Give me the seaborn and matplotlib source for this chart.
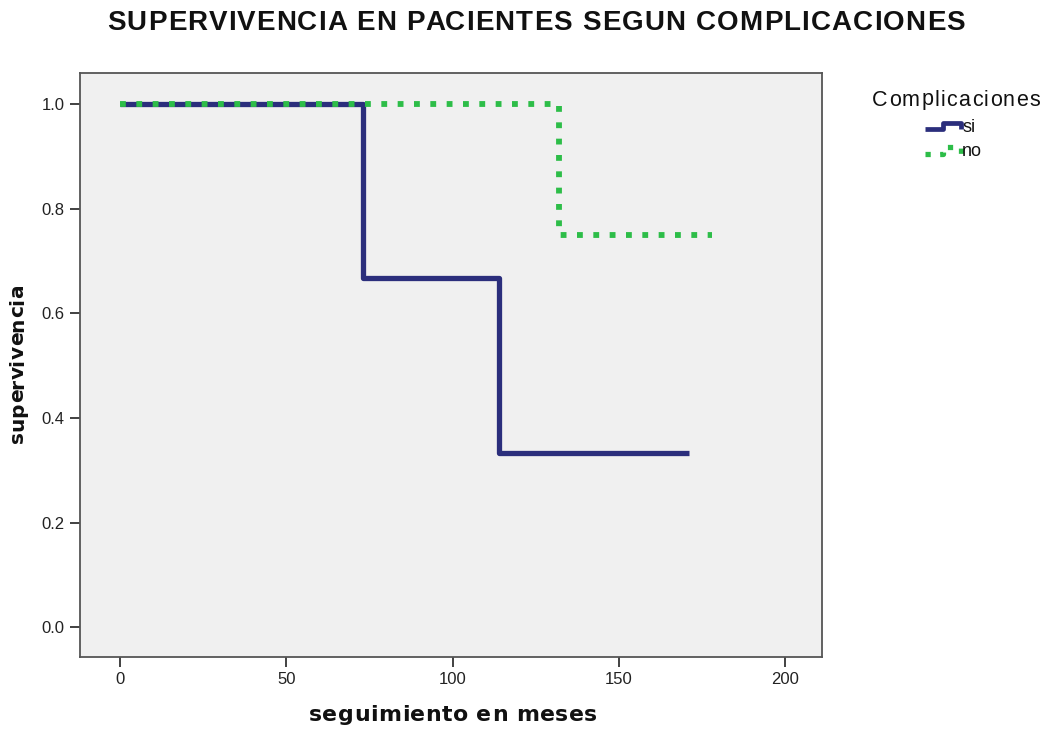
import matplotlib
matplotlib.use("Agg")
import matplotlib.pyplot as plt
from matplotlib.font_manager import FontProperties
from matplotlib.legend_handler import HandlerBase
from matplotlib.lines import Line2D
import numpy as np
import seaborn as sns
import pandas as pd

# Kaplan-Meier step estimates per group
si_time = [0, 73, 114, 171]
si_surv = [1.0, 0.667, 0.333, 0.333]
no_time = [0, 132, 178]
no_surv = [1.0, 0.75, 0.75]

groups = ["si", "no"]
colors = {"si": "#2b2e7c", "no": "#2dbd48"}

x_ticks = [0, 50, 100, 150, 200]
y_ticks = [0.0, 0.2, 0.4, 0.6, 0.8, 1.0]
y_tick_labels = ["0.0", "0.2", "0.4", "0.6", "0.8", "1.0"]

title = "SUPERVIVENCIA EN PACIENTES SEGUN COMPLICACIONES"
x_label = "seguimiento en meses"
y_label = "supervivencia"
legend_title = "Complicaciones"

df = pd.concat([
    pd.DataFrame({"t": si_time, "s": si_surv, "grupo": "si"}),
    pd.DataFrame({"t": no_time, "s": no_surv, "grupo": "no"}),
], ignore_index=True)

sns.set_theme(style="ticks")
plt.rcParams["font.family"] = ["Liberation Sans", "DejaVu Sans"]

W, H = 1044, 729
fig = plt.figure(figsize=(W / 100, H / 100), dpi=100)
ax = fig.add_axes([80 / W, 1 - 657 / H, 742 / W, 584 / H])
ax.set_facecolor("#f0f0f0")

sns.lineplot(data=df[df.grupo == "si"], x="t", y="s", ax=ax, color=colors["si"],
             drawstyle="steps-post", linewidth=3.8, estimator=None, label="si",
             solid_capstyle="butt", zorder=3)
sns.lineplot(data=df[df.grupo == "no"], x="t", y="s", ax=ax, color=colors["no"],
             drawstyle="steps-post", linewidth=4.2, estimator=None, label="no",
             linestyle=(0, (1.0, 1.8)), zorder=4)

ax.set_xlim(-12, 211)
ax.set_ylim(-0.057, 1.059)
ax.set_xticks(x_ticks)
ax.set_yticks(y_ticks)
ax.set_yticklabels(y_tick_labels)
ax.set_xlabel("")
ax.set_ylabel("")
ax.tick_params(axis="both", direction="out", length=7, width=1.3, color="#333333",
               labelsize=12, labelcolor="#222222", pad=4)
for sp in ax.spines.values():
    sp.set_visible(True)
    sp.set_color("#555555")
    sp.set_linewidth(1.3)


def spaced_text(cx, cy, s, target_width, rotation=0, **font):
    """Draw s centred at pixel (cx, cy) (top-left origin, baseline), spreading
    the characters so the ink spans target_width pixels."""
    renderer = fig.canvas.get_renderer()
    prop = FontProperties(**font)

    def width(t):
        return renderer.get_text_width_height_descent(t, prop, ismath=False)[0]

    bar = width("|")
    offs = [0.0] + [width(s[:i] + "|") - bar for i in range(1, len(s))]
    gap = max((target_width - width(s)) / max(len(s) - 1, 1), 0.0)
    total = width(s) + gap * (len(s) - 1)
    ang = np.deg2rad(rotation)
    dx, dy = np.cos(ang), np.sin(ang)
    X0, Y0 = cx, H - cy
    for i, ch in enumerate(s):
        if ch == " ":
            continue
        o = -total / 2 + offs[i] + i * gap
        fig.text((X0 + dx * o) / W, (Y0 + dy * o) / H, ch, rotation=rotation,
                 rotation_mode="anchor", ha="left", va="baseline",
                 fontproperties=prop, color="#111111")


fig.canvas.draw()
spaced_text(536, 30.5, title, 858, family="Liberation Sans", weight="bold", size=20)
spaced_text(453, 721, x_label, 288, family="DejaVu Sans", weight="bold", size=15.8)
spaced_text(23.5, 364, y_label, 158, rotation=90, family="DejaVu Sans", weight="bold", size=14.5)
spaced_text(956, 105.5, legend_title, 168, family="Liberation Sans", size=15.5)


class StepHandler(HandlerBase):
    """Legend key drawn as a small step, like a survival curve."""

    def create_artists(self, legend, orig_handle, xdescent, ydescent, width, height,
                       fontsize, trans):
        x0 = -xdescent
        yb = -ydescent + height * 0.2
        yt = -ydescent + height * 0.75
        xs = [x0, x0 + 0.5 * width, x0 + 0.5 * width, x0 + width, x0 + width]
        ys = [yb, yb, yt, yt, yb]
        line = Line2D(xs, ys)
        line.update_from(orig_handle)
        line.set_linewidth(orig_handle.get_linewidth() * 0.9)
        line.set_clip_box(None)
        line.set_clip_path(None)
        line.set_clip_on(False)
        line.set_transform(trans)
        return [line]


handles, labels = ax.get_legend_handles_labels()
leg = ax.legend(handles, labels, loc="upper left",
                bbox_to_anchor=(925 / W, 1 - 119 / H), bbox_transform=fig.transFigure,
                frameon=False, fontsize=13, handlelength=2.0, handleheight=0.7,
                handletextpad=0.05, borderaxespad=0.0, borderpad=0.0,
                labelspacing=0.4, handler_map={Line2D: StepHandler()})
for t in leg.get_texts():
    t.set_color("#111111")

fig.savefig("out.png", dpi=100, facecolor="white")
